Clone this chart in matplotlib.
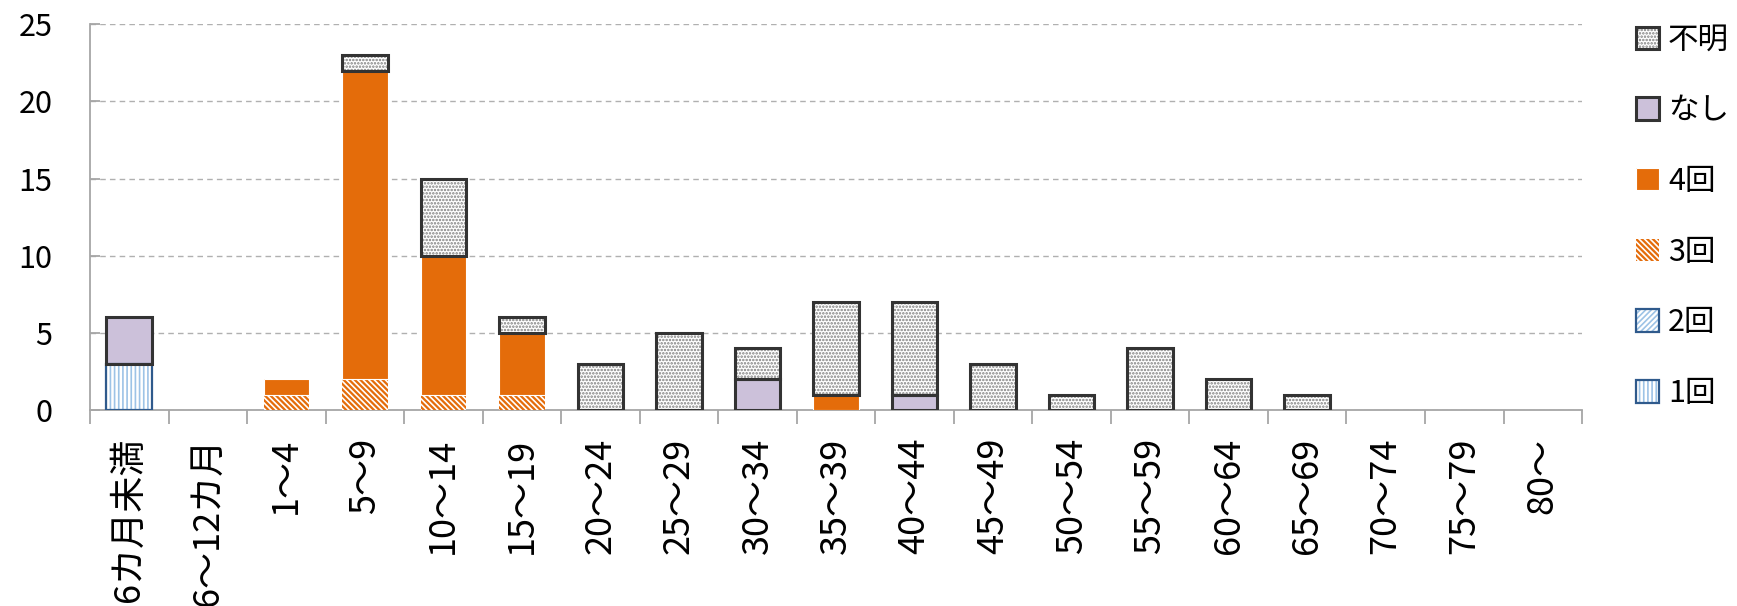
import numpy as np
import matplotlib
matplotlib.use("Agg")
import matplotlib.pyplot as plt
from matplotlib.patches import Patch
from matplotlib.legend_handler import HandlerTuple

plt.rcParams['font.family'] = ['Noto Sans CJK JP', 'DejaVu Sans']
plt.rcParams['hatch.linewidth'] = 1.2

# --- DATA ---
categories = ['6カ月未満', '6～12カ月', '1～4', '5～9', '10～14', '15～19', '20～24',
              '25～29', '30～34', '35～39', '40～44', '45～49', '50～54', '55～59',
              '60～64', '65～69', '70～74', '75～79', '80～']
once    = [3, 0, 0, 0, 0, 0, 0, 0, 0, 0, 0, 0, 0, 0, 0, 0, 0, 0, 0]
twice   = [0, 0, 0, 0, 0, 0, 0, 0, 0, 0, 0, 0, 0, 0, 0, 0, 0, 0, 0]
three   = [0, 0, 1, 2, 1, 1, 0, 0, 0, 0, 0, 0, 0, 0, 0, 0, 0, 0, 0]
four    = [0, 0, 1, 20, 9, 4, 0, 0, 0, 1, 0, 0, 0, 0, 0, 0, 0, 0, 0]
none_   = [3, 0, 0, 0, 0, 0, 0, 0, 2, 0, 1, 0, 0, 0, 0, 0, 0, 0, 0]
unknown = [0, 0, 0, 1, 5, 1, 3, 5, 2, 6, 6, 3, 1, 4, 2, 1, 0, 0, 0]
series_names = ['1回', '2回', '3回', '4回', 'なし', '不明']

ORANGE = '#E46C0A'
LAVENDER = '#CCC1DA'
BLUE_EDGE = '#2F5A8C'
BLUE_HATCH = '#9DC3E6'
DARK = '#333333'
DOT = '#7f7f7f'

# (face, hatch, hatch color, outline color, outline width)
styles = [
    ('white', '||||', BLUE_HATCH, BLUE_EDGE, 1.6),
    ('white', '//////', BLUE_HATCH, BLUE_EDGE, 1.6),
    (ORANGE, '\\\\\\\\\\\\', 'white', None, 0),
    (ORANGE, None, 'white', 'white', 0.8),
    (LAVENDER, None, LAVENDER, DARK, 2.2),
    ('white', '.....', DOT, DARK, 2.2),
]
values = [once, twice, three, four, none_, unknown]

fig = plt.figure(figsize=(17.37, 6.06), dpi=100)
ax = fig.add_axes([0.0518, 0.3234, 0.9108 - 0.0518, 0.960 - 0.3234])

x = np.arange(len(categories))
width = 0.58
bottom = np.zeros(len(categories))
handles = []
for vals, (face, hatch, hcol, ecol, lw) in zip(values, styles):
    vals = np.array(vals, dtype=float)
    mask = vals > 0
    ax.bar(x[mask], vals[mask], width, bottom=bottom[mask], color=face,
           hatch=hatch, edgecolor=hcol, linewidth=0, zorder=3)
    if ecol is not None and lw > 0:
        ax.bar(x[mask], vals[mask], width, bottom=bottom[mask], color='none',
               edgecolor=ecol, linewidth=lw, zorder=4)
    bottom += vals
    p1 = Patch(facecolor=face, hatch=hatch, edgecolor=hcol, linewidth=0)
    if ecol is not None and lw > 0:
        p2 = Patch(facecolor='none', edgecolor=ecol, linewidth=lw)
        handles.append((p1, p2))
    else:
        handles.append((p1,))

ax.set_xlim(-0.5, len(categories) - 0.5)
ax.set_ylim(0, 25)
ax.set_yticks([0, 5, 10, 15, 20, 25])
ax.yaxis.grid(True, color='#b0b0b0', linestyle=(0, (4, 3)), linewidth=1, zorder=0)
ax.set_axisbelow(True)

for s in ['top', 'right']:
    ax.spines[s].set_visible(False)
for s in ['left', 'bottom']:
    ax.spines[s].set_color('#a6a6a6')
    ax.spines[s].set_linewidth(1.3)

ax.set_xticks(x)
ax.set_xticklabels(categories, rotation=90, fontsize=26)
ax.set_xticks(np.arange(-0.5, len(categories)), minor=True)
ax.tick_params(axis='x', which='major', length=0, pad=20)
ax.tick_params(axis='x', which='minor', length=10, color='#a6a6a6', width=1.3)
ax.tick_params(axis='y', direction='in', length=7, color='#a6a6a6', width=1.3,
               labelsize=22, pad=27)

order = [5, 4, 3, 2, 1, 0]
fig.legend([handles[i] for i in order], [series_names[i] for i in order],
           handler_map={tuple: HandlerTuple(ndivide=1, pad=0)},
           loc='upper left', bbox_to_anchor=(0.933, 0.985), frameon=False,
           fontsize=22, handlelength=0.75, handleheight=0.75, handletextpad=0.3,
           labelspacing=1.3, borderpad=0)

fig.savefig('out.png', dpi=100)
